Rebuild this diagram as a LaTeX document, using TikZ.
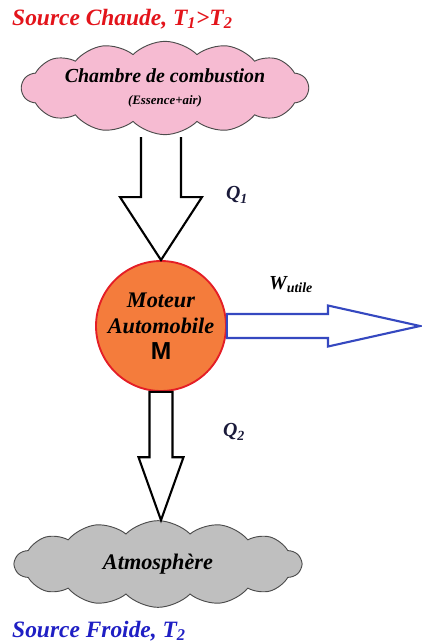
\documentclass[tikz,border=0pt]{standalone}
\usepackage{fontspec}
\setmainfont{Liberation Serif}
\setsansfont{Liberation Sans}
\usetikzlibrary{shapes.symbols, calc, positioning}
\definecolor{chaudred}{HTML}{E3141B}
\definecolor{froidblue}{HTML}{1F1FC4}
\definecolor{cloudpink}{HTML}{F6BBD2}
\definecolor{cloudgray}{HTML}{BFBFBF}
\definecolor{moteurorange}{HTML}{F47C3C}
\definecolor{moteurred}{HTML}{E41E26}
\definecolor{workblue}{HTML}{3548C0}
\definecolor{qnavy}{HTML}{1A1A3A}

\begin{document}
\begin{tikzpicture}[
  x=0.3mm, y=-0.3mm,
  source/.style={font=\fontsize{20}{22}\selectfont\bfseries\itshape, anchor=west, inner sep=0pt},
  puff/.style={cloud, cloud puffs=14, cloud puff arc=90, cloud ignores aspect, draw=black!70, fill=#1, line width=0.8pt, inner sep=0pt, align=center},
  fatarrow/.style={line width=1.8pt, line join=miter, draw=black, fill=white},
  qlabel/.style={font=\fontsize{17}{19}\selectfont\bfseries\itshape, color=qnavy, inner sep=0pt}
]
  \useasboundingbox (0,0) rectangle (422,644);

  % Sources
  \node[source, color=chaudred] (chaude) at (12,19) {Source Chaude, T\textsubscript{1}>T\textsubscript{2}};
  \node[source, color=froidblue] (froide) at (12,631) {Source Froide, T\textsubscript{2}};

  % Clouds
  \node[puff=cloudpink, minimum width=8.6cm, minimum height=2.8cm, font=\bfseries\itshape] (chambre) at (165,88)
    {\fontsize{17}{20}\selectfont Chambre de combustion\\[7pt] \fontsize{11}{13}\selectfont (Essence+air)};
  \node[puff=cloudgray, minimum width=8.6cm, minimum height=2.6cm, font=\fontsize{19}{21}\selectfont\bfseries\itshape] (atmo) at (158,564) {Atmosphère};

  % Motor
  \node[circle, draw=moteurred, line width=1.6pt, fill=moteurorange, minimum size=3.9cm, inner sep=0pt, align=center,
        font=\fontsize{19}{22}\selectfont\bfseries\itshape] (moteur) at (161,326)
    {Moteur\\Automobile\\{\sffamily\upshape\fontsize{21}{22}\selectfont M}};

  % Arrows
  \draw[fatarrow] ($(moteur.north |- chambre.south)+(-20,2)$) -- ($(moteur.north)+(-20,-63)$) -- ++(-21,0)
    -- (moteur.north) -- ++(41,-63) -- ++(-21,0) -- ($(moteur.north |- chambre.south)+(20,2)$);
  \draw[fatarrow] ($(moteur.south)+(-11.5,0)$) -- ($(moteur.south |- atmo.north)+(-11.5,-63)$) -- ++(-11,0)
    -- (moteur.south |- atmo.north) -- ++(22.5,-63) -- ++(-11,0) -- ($(moteur.south)+(11.5,0)$) -- cycle;
  \coordinate (wtip) at (420,326);
  \draw[fatarrow, draw=workblue] ($(moteur.east)+(0,-12)$) -- ($(wtip)+(-92,-12)$) -- ++(0,-8.5)
    -- (wtip) -- ++(-92,20.5) -- ++(0,-8.5) -- ($(moteur.east)+(0,12)$) -- cycle;

  % Labels
  \node[qlabel] (qone) at (237,195) {Q\textsubscript{1}};
  \node[qlabel] (qtwo) at (234,432) {Q\textsubscript{2}};
  \node[qlabel, color=black] (wutile) at (291,285) {W\textsubscript{utile}};
\end{tikzpicture}
\end{document}
